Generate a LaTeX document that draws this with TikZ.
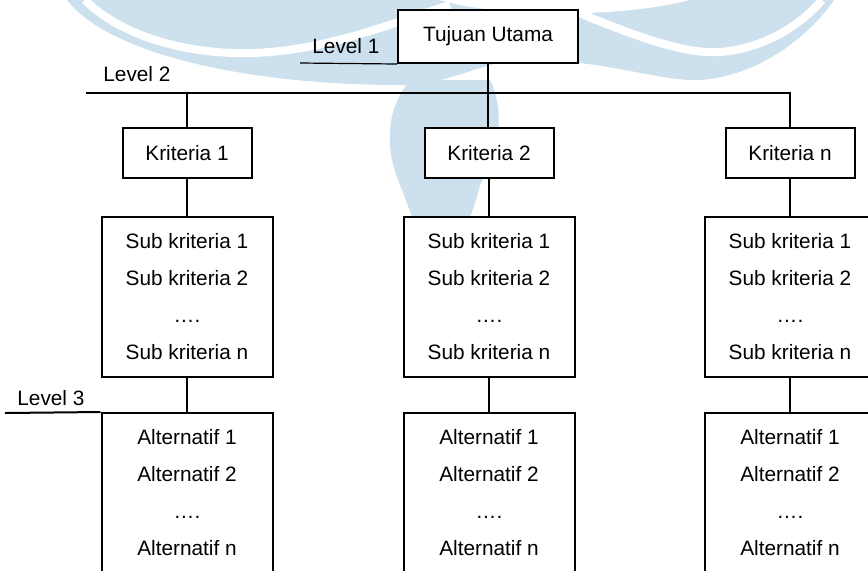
\documentclass[tikz,border=0pt]{standalone}
\usepackage{fontspec}
\setmainfont{Liberation Sans}
\definecolor{wmblue}{RGB}{205,224,238}
\usepackage{tikz}

\begin{document}
\begin{tikzpicture}[x=0.5pt, y=-0.5pt,
	garis/.style={line width=1pt},
	kotak/.style={draw, line width=1pt, fill=white, align=center, inner sep=0pt,
		font=\fontsize{10.4}{18.5}\selectfont},
	kriteria/.style={kotak, minimum width=64.5pt, minimum height=25pt},
	isian/.style={kotak, minimum width=85.5pt, minimum height=80pt},
	levelteks/.style={anchor=base west, inner sep=0pt, font=\fontsize{10.4}{12}\selectfont}]
	\clip (0,0) rectangle (868,570);
	% watermark
	\fill[wmblue] (67,0) .. controls (110,55) and (250,85) .. (400,85)
		.. controls (450,85) and (480,62) .. (520,60)
		.. controls (600,58) and (660,82) .. (700,80)
		.. controls (760,76) and (810,35) .. (834,0) -- cycle;
	\fill[wmblue] (410,80) .. controls (385,110) and (385,150) .. (400,185)
		.. controls (410,210) and (420,240) .. (440,290)
		.. controls (460,240) and (475,210) .. (480,185)
		.. controls (500,150) and (505,110) .. (490,80) -- cycle;
	\draw[white, line width=4pt] (85,0) .. controls (125,40) and (200,58) .. (270,52)
		.. controls (340,46) and (400,20) .. (450,5);
	\draw[white, line width=4pt] (560,5) .. controls (620,30) and (680,55) .. (720,52)
		.. controls (770,48) and (805,20) .. (822,0);
	\fill[white] (440,0) .. controls (500,18) and (620,18) .. (690,0) -- cycle;
	% level 1
	\node[kotak, minimum width=90pt, minimum height=26.5pt] (tujuan) at (488,36.5) {Tujuan Utama};
	\node[levelteks] (lvteks1) at (312,53) {Level 1};
	\coordinate (lv1) at (300,63);
	\draw[line width=0.6pt] (lv1) -- (tujuan.south west);
	% level 2 dan sub kriteria
	\foreach \c/\x in {1/187, 2/489, n/790}{
		\node[kriteria] (k\c) at (\x,153) {Kriteria \c};
		\node[isian] (s\c) at (\x,297) {Sub kriteria 1\\Sub kriteria 2\\….\\Sub kriteria n};
		\node[isian] (a\c) at (\x,493) {Alternatif 1\\Alternatif 2\\….\\Alternatif n};
		\draw[garis] (k\c) -- (s\c);
		\draw[garis] (s\c) -- (a\c);
	}
	\node[levelteks] (lvteks2) at (103,81) {Level 2};
	\coordinate (lv2) at (86,93);
	\draw[garis] (lv2) -- (k1.north |- lv2) -| (kn.north);
	\draw[garis] (k1.north |- lv2) -- (k1.north);
	\draw[garis] (tujuan.south) -- (tujuan.south |- k2.north);
	% level 3
	\node[levelteks] (lvteks3) at (17,405) {Level 3};
	\coordinate (lv3) at (5,413);
	\draw[garis] (lv3) -- (a1.north west);
\end{tikzpicture}
\end{document}
